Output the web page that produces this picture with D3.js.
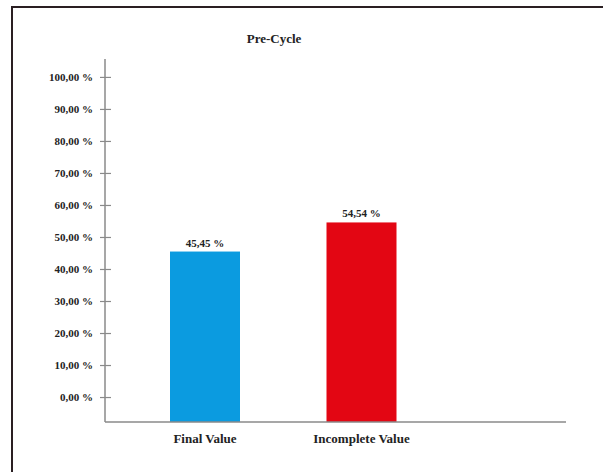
<!DOCTYPE html>
<html>
<head>
<meta charset="utf-8">
<script src="https://cdn.jsdelivr.net/npm/d3@7"></script>
<style>
  html, body { margin: 0; padding: 0; background: #fff; }
  svg { display: block; }
  text { font-family: "Liberation Serif", "DejaVu Serif", serif; font-weight: bold; fill: #222; }
</style>
</head>
<body>
<script>
const title = "Pre-Cycle";
const categories = ["Final Value", "Incomplete Value"];
const values = [45.45, 54.54];
const valueLabels = ["45,45 %", "54,54 %"];
const barColors = ["#0b9be0", "#e30613"];
const tickValues = [0, 10, 20, 30, 40, 50, 60, 70, 80, 90, 100];
const tickLabels = ["0,00 %", "10,00 %", "20,00 %", "30,00 %", "40,00 %", "50,00 %", "60,00 %", "70,00 %", "80,00 %", "90,00 %", "100,00 %"];

const W = 603, H = 472;
const svg = d3.select("body").append("svg").attr("width", W).attr("height", H);

// frame (top and left edges)
svg.append("line").attr("x1", 11).attr("x2", W).attr("y1", 7).attr("y2", 7)
  .attr("stroke", "#2a1f22").attr("stroke-width", 2);
svg.append("line").attr("x1", 12).attr("x2", 12).attr("y1", 6).attr("y2", H)
  .attr("stroke", "#2a1f22").attr("stroke-width", 2);

const axisX = 105, baseY = 422, topY = 59, rightX = 566;
const y = d3.scaleLinear().domain([-7.8, 105.6]).range([baseY, topY]);
const x = d3.scaleBand().domain(categories).range([126.75, 439.75]);
const barW = 70;

// title
svg.append("text").attr("x", 274).attr("y", 43).attr("text-anchor", "middle")
  .style("font-size", "13px").text(title);

// y axis
const yAxis = d3.axisLeft(y).tickValues(tickValues)
  .tickFormat((d, i) => tickLabels[i]).tickSizeInner(6).tickSizeOuter(0).tickPadding(6);
const gy = svg.append("g").attr("transform", `translate(${axisX},0)`).call(yAxis);
gy.select(".domain").remove();
gy.selectAll(".tick line").attr("x1", -5).attr("x2", 6).attr("stroke", "#8a8a8a").attr("stroke-width", 1.2);
gy.selectAll(".tick text").attr("x", -12).style("font-size", "11px")
  .style("font-family", "Liberation Serif, serif").style("font-weight", "bold").attr("fill", "#222");
svg.append("line").attr("x1", axisX).attr("x2", axisX).attr("y1", topY).attr("y2", baseY)
  .attr("stroke", "#8a8a8a").attr("stroke-width", 1.5);

// bars
svg.selectAll("rect.bar").data(categories).enter().append("rect")
  .attr("class", "bar")
  .attr("x", d => x(d) + x.bandwidth() / 2 - barW / 2)
  .attr("width", barW)
  .attr("y", (d, i) => y(values[i]))
  .attr("height", (d, i) => y(y.domain()[0]) - y(values[i]))
  .attr("fill", (d, i) => barColors[i]);

// value labels
svg.selectAll("text.val").data(categories).enter().append("text")
  .attr("class", "val")
  .attr("x", d => x(d) + x.bandwidth() / 2)
  .attr("y", (d, i) => y(values[i]) - 5)
  .attr("text-anchor", "middle").style("font-size", "11px")
  .text((d, i) => valueLabels[i]);

// x axis
const xAxis = d3.axisBottom(x).tickSize(0).tickPadding(12);
const gx = svg.append("g").attr("transform", `translate(0,${baseY})`).call(xAxis);
gx.select(".domain").remove();
gx.selectAll(".tick text").style("font-size", "13px")
  .style("font-family", "Liberation Serif, serif").style("font-weight", "bold").attr("fill", "#222");
svg.append("line").attr("x1", axisX).attr("x2", rightX).attr("y1", baseY).attr("y2", baseY)
  .attr("stroke", "#8a8a8a").attr("stroke-width", 1.5);
</script>
</body>
</html>
